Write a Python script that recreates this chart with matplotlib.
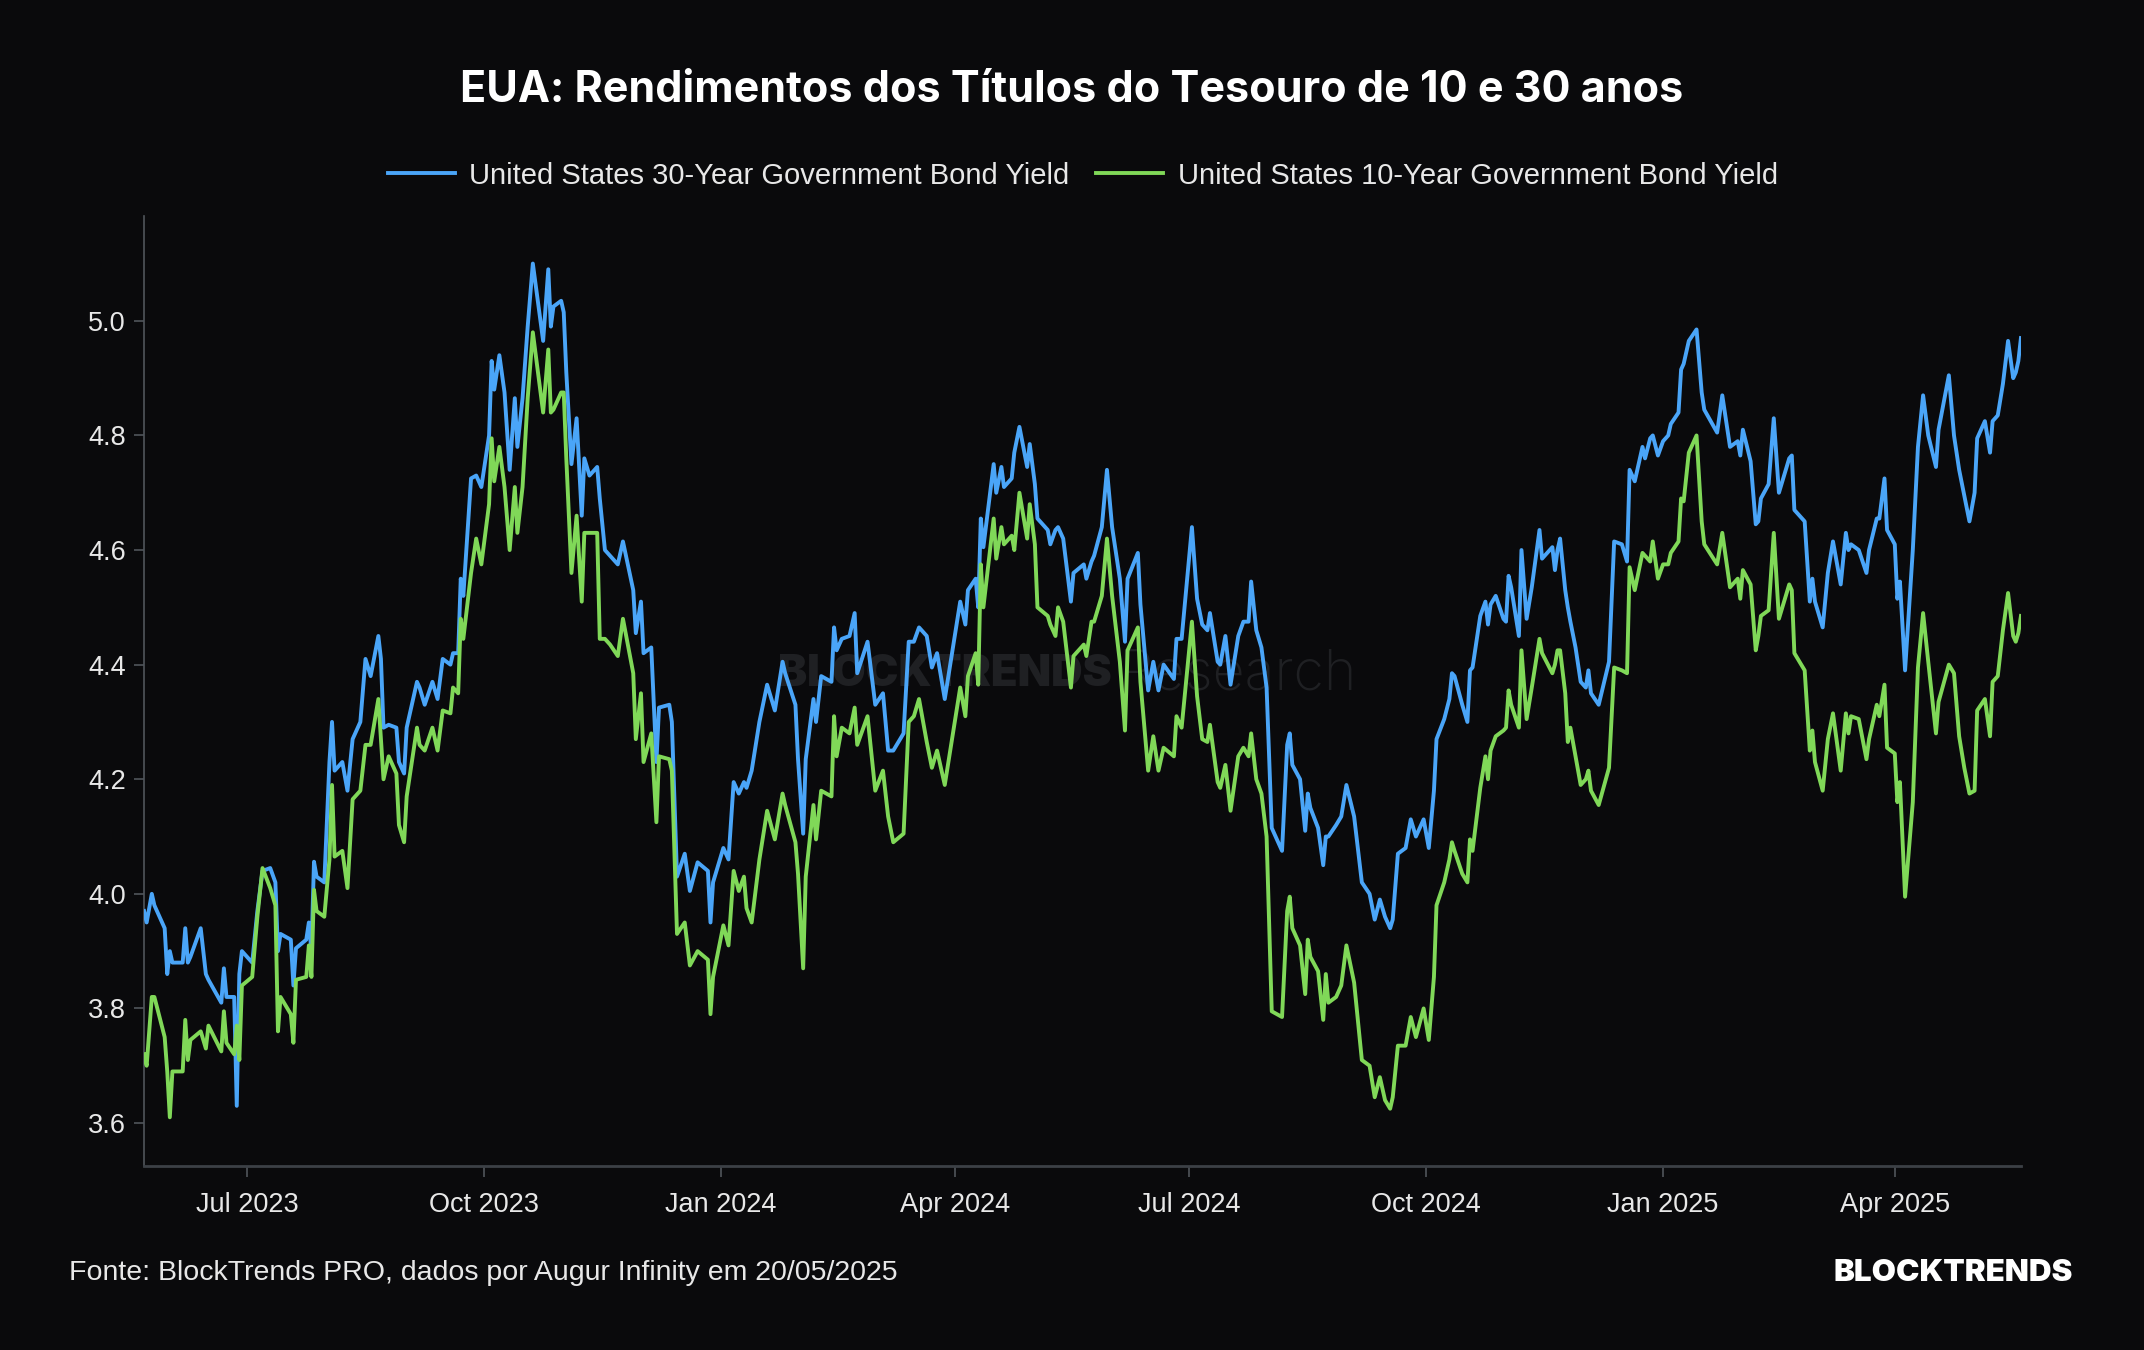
import matplotlib
matplotlib.use("Agg")
import matplotlib.pyplot as plt
import matplotlib.dates as mdates
import pandas as pd

plt.rcParams['font.family'] = ['Liberation Sans', 'DejaVu Sans']

# ---- data ----
dates = [
    # 2023
    "2023-05-22", "2023-05-23", "2023-05-25", "2023-05-26", "2023-05-30", "2023-05-31",
    "2023-06-01", "2023-06-02", "2023-06-06", "2023-06-07", "2023-06-08", "2023-06-09", "2023-06-13", "2023-06-15",
    "2023-06-16", "2023-06-21", "2023-06-22", "2023-06-23", "2023-06-26", "2023-06-27", "2023-06-28", "2023-06-29",
    "2023-07-03", "2023-07-05", "2023-07-07", "2023-07-10", "2023-07-12", "2023-07-13", "2023-07-14", "2023-07-18",
    "2023-07-19", "2023-07-20", "2023-07-24", "2023-07-25", "2023-07-26", "2023-07-27", "2023-07-28", "2023-07-31",
    "2023-08-02", "2023-08-03", "2023-08-04", "2023-08-07", "2023-08-09", "2023-08-11", "2023-08-14", "2023-08-16",
    "2023-08-18", "2023-08-21", "2023-08-22", "2023-08-23", "2023-08-25", "2023-08-28", "2023-08-29", "2023-08-31",
    "2023-09-01", "2023-09-05", "2023-09-06", "2023-09-08", "2023-09-11", "2023-09-13", "2023-09-15", "2023-09-18",
    "2023-09-19", "2023-09-21", "2023-09-22", "2023-09-23", "2023-09-26", "2023-09-28", "2023-09-30",
    "2023-10-03", "2023-10-04", "2023-10-05", "2023-10-07", "2023-10-09", "2023-10-11", "2023-10-13", "2023-10-14",
    "2023-10-16", "2023-10-18", "2023-10-20", "2023-10-24", "2023-10-26", "2023-10-27", "2023-10-28", "2023-10-31",
    "2023-11-01", "2023-11-02", "2023-11-04", "2023-11-06", "2023-11-08", "2023-11-09", "2023-11-11", "2023-11-14",
    "2023-11-15", "2023-11-17", "2023-11-19", "2023-11-22", "2023-11-24", "2023-11-28", "2023-11-29",
    "2023-12-01", "2023-12-02", "2023-12-05", "2023-12-07", "2023-12-08", "2023-12-12", "2023-12-13", "2023-12-15",
    "2023-12-18", "2023-12-20", "2023-12-23", "2023-12-27", "2023-12-28", "2023-12-29",
    # 2024
    "2024-01-02", "2024-01-04", "2024-01-06", "2024-01-08", "2024-01-10", "2024-01-11", "2024-01-13", "2024-01-16",
    "2024-01-19", "2024-01-22", "2024-01-25", "2024-01-26", "2024-01-30", "2024-01-31",
    "2024-02-02", "2024-02-03", "2024-02-06", "2024-02-07", "2024-02-09", "2024-02-13", "2024-02-14", "2024-02-15",
    "2024-02-17", "2024-02-20", "2024-02-22", "2024-02-23", "2024-02-27",
    "2024-03-01", "2024-03-04", "2024-03-06", "2024-03-08", "2024-03-12", "2024-03-14", "2024-03-16", "2024-03-18",
    "2024-03-21", "2024-03-23", "2024-03-25", "2024-03-28",
    "2024-04-03", "2024-04-05", "2024-04-06", "2024-04-09", "2024-04-10", "2024-04-11", "2024-04-12", "2024-04-16",
    "2024-04-17", "2024-04-19", "2024-04-20", "2024-04-23", "2024-04-24", "2024-04-26", "2024-04-29", "2024-04-30",
    "2024-05-02", "2024-05-03", "2024-05-07", "2024-05-08", "2024-05-10", "2024-05-11", "2024-05-13", "2024-05-16",
    "2024-05-17", "2024-05-21", "2024-05-22", "2024-05-24", "2024-05-25", "2024-05-28", "2024-05-30",
    "2024-06-01", "2024-06-04", "2024-06-06", "2024-06-07", "2024-06-11", "2024-06-12", "2024-06-15", "2024-06-17",
    "2024-06-19", "2024-06-21", "2024-06-25", "2024-06-26", "2024-06-28",
    "2024-07-02", "2024-07-04", "2024-07-06", "2024-07-08", "2024-07-09", "2024-07-12", "2024-07-13", "2024-07-15",
    "2024-07-17", "2024-07-20", "2024-07-22", "2024-07-24", "2024-07-25", "2024-07-27", "2024-07-29", "2024-07-31",
    "2024-08-02", "2024-08-06", "2024-08-08", "2024-08-09", "2024-08-10", "2024-08-13", "2024-08-15", "2024-08-16",
    "2024-08-17", "2024-08-20", "2024-08-22", "2024-08-23", "2024-08-24", "2024-08-27", "2024-08-29", "2024-08-31",
    "2024-09-03", "2024-09-06", "2024-09-09", "2024-09-11", "2024-09-13", "2024-09-15", "2024-09-17", "2024-09-18",
    "2024-09-20", "2024-09-23", "2024-09-25", "2024-09-27", "2024-09-30",
    "2024-10-02", "2024-10-04", "2024-10-05", "2024-10-08", "2024-10-10", "2024-10-11", "2024-10-12", "2024-10-15",
    "2024-10-17", "2024-10-18", "2024-10-19", "2024-10-22", "2024-10-24", "2024-10-25", "2024-10-26", "2024-10-28",
    "2024-10-31",
    "2024-11-01", "2024-11-02", "2024-11-03", "2024-11-06", "2024-11-07", "2024-11-09", "2024-11-11", "2024-11-14",
    "2024-11-15", "2024-11-19", "2024-11-20", "2024-11-21", "2024-11-22", "2024-11-24", "2024-11-25", "2024-11-26",
    "2024-11-28", "2024-11-30",
    "2024-12-02", "2024-12-03", "2024-12-04", "2024-12-07", "2024-12-11", "2024-12-13", "2024-12-16", "2024-12-18",
    "2024-12-19", "2024-12-21", "2024-12-24", "2024-12-25", "2024-12-27", "2024-12-28", "2024-12-30",
    # 2025
    "2025-01-01", "2025-01-03", "2025-01-04", "2025-01-07", "2025-01-08", "2025-01-09", "2025-01-11", "2025-01-14",
    "2025-01-16", "2025-01-17", "2025-01-22", "2025-01-24", "2025-01-27", "2025-01-30", "2025-01-31",
    "2025-02-01", "2025-02-04", "2025-02-06", "2025-02-07", "2025-02-08", "2025-02-11", "2025-02-13", "2025-02-15",
    "2025-02-19", "2025-02-20", "2025-02-21", "2025-02-25", "2025-02-27", "2025-02-28",
    "2025-03-01", "2025-03-04", "2025-03-06", "2025-03-08", "2025-03-11", "2025-03-13", "2025-03-14", "2025-03-15",
    "2025-03-18", "2025-03-21", "2025-03-22", "2025-03-25", "2025-03-26", "2025-03-28", "2025-03-29",
    "2025-04-01", "2025-04-02", "2025-04-03", "2025-04-05", "2025-04-08", "2025-04-10", "2025-04-12", "2025-04-14",
    "2025-04-17", "2025-04-18", "2025-04-22", "2025-04-24", "2025-04-26", "2025-04-28", "2025-04-30",
    "2025-05-02", "2025-05-03", "2025-05-06", "2025-05-08", "2025-05-09", "2025-05-11", "2025-05-13", "2025-05-15",
    "2025-05-17", "2025-05-18", "2025-05-19", "2025-05-20",
]

yield_30y = [
    # 2023
    3.97, 3.95, 4.00, 3.98, 3.94, 3.86,
    3.90, 3.88, 3.88, 3.94, 3.88, 3.89, 3.94, 3.86,
    3.85, 3.81, 3.87, 3.82, 3.82, 3.63, 3.86, 3.90,
    3.88, 3.97, 4.04, 4.045, 4.02, 3.90, 3.93, 3.92,
    3.84, 3.905, 3.92, 3.95, 3.90, 4.056, 4.03, 4.02,
    4.23, 4.30, 4.215, 4.23, 4.18, 4.27, 4.30, 4.41,
    4.38, 4.45, 4.41, 4.29, 4.295, 4.29, 4.23, 4.21,
    4.29, 4.37, 4.36, 4.33, 4.37, 4.34, 4.41, 4.40,
    4.42, 4.42, 4.55, 4.52, 4.725, 4.73, 4.71,
    4.80, 4.93, 4.88, 4.94, 4.875, 4.74, 4.865, 4.78,
    4.865, 4.99, 5.10, 4.965, 5.09, 4.99, 5.025, 5.035,
    5.015, 4.91, 4.75, 4.83, 4.66, 4.76, 4.73, 4.745,
    4.69, 4.60, 4.59, 4.575, 4.615, 4.53, 4.455,
    4.51, 4.42, 4.43, 4.23, 4.325, 4.33, 4.30, 4.03,
    4.07, 4.005, 4.055, 4.04, 3.95, 4.02,
    # 2024
    4.08, 4.06, 4.195, 4.175, 4.195, 4.185, 4.215, 4.30,
    4.365, 4.32, 4.405, 4.385, 4.33, 4.235,
    4.105, 4.235, 4.34, 4.30, 4.38, 4.37, 4.465, 4.425,
    4.445, 4.45, 4.49, 4.385, 4.44,
    4.33, 4.35, 4.25, 4.25, 4.28, 4.44, 4.44, 4.465,
    4.45, 4.395, 4.42, 4.34,
    4.51, 4.47, 4.53, 4.55, 4.50, 4.655, 4.605, 4.75,
    4.70, 4.745, 4.71, 4.725, 4.77, 4.815, 4.745, 4.785,
    4.715, 4.655, 4.635, 4.61, 4.635, 4.64, 4.62, 4.51,
    4.56, 4.575, 4.55, 4.58, 4.59, 4.64, 4.74,
    4.64, 4.55, 4.44, 4.55, 4.595, 4.505, 4.355, 4.405,
    4.355, 4.40, 4.375, 4.445, 4.445,
    4.64, 4.515, 4.47, 4.46, 4.49, 4.405, 4.40, 4.45,
    4.365, 4.45, 4.475, 4.475, 4.545, 4.46, 4.43, 4.36,
    4.115, 4.075, 4.26, 4.28, 4.225, 4.20, 4.11, 4.175,
    4.15, 4.115, 4.05, 4.10, 4.10, 4.12, 4.135, 4.19,
    4.135, 4.02, 4.00, 3.955, 3.99, 3.96, 3.94, 3.955,
    4.07, 4.08, 4.13, 4.10, 4.13,
    4.08, 4.18, 4.27, 4.305, 4.34, 4.385, 4.38, 4.33,
    4.30, 4.39, 4.395, 4.485, 4.51, 4.47, 4.505, 4.52,
    4.48,
    4.475, 4.555, 4.535, 4.45, 4.60, 4.48, 4.535, 4.635,
    4.585, 4.605, 4.565, 4.60, 4.62, 4.53, 4.50, 4.475,
    4.43, 4.37,
    4.36, 4.39, 4.35, 4.33, 4.405, 4.615, 4.61, 4.58,
    4.74, 4.72, 4.78, 4.76, 4.795, 4.80, 4.765,
    # 2025
    4.79, 4.80, 4.82, 4.84, 4.915, 4.925, 4.965, 4.985,
    4.875, 4.845, 4.805, 4.87, 4.78, 4.79, 4.765,
    4.81, 4.755, 4.645, 4.65, 4.69, 4.715, 4.83, 4.70,
    4.76, 4.765, 4.67, 4.65, 4.51, 4.55,
    4.51, 4.465, 4.56, 4.615, 4.54, 4.63, 4.60, 4.61,
    4.60, 4.56, 4.60, 4.655, 4.655, 4.725, 4.635,
    4.61, 4.515, 4.545, 4.39, 4.60, 4.78, 4.87, 4.80,
    4.745, 4.81, 4.905, 4.80, 4.74, 4.695, 4.65,
    4.70, 4.795, 4.825, 4.77, 4.825, 4.835, 4.89, 4.965,
    4.90, 4.91, 4.93, 4.97,
]

yield_10y = [
    # 2023
    3.72, 3.70, 3.82, 3.82, 3.75, 3.69,
    3.61, 3.69, 3.69, 3.78, 3.71, 3.745, 3.76, 3.73,
    3.77, 3.725, 3.795, 3.74, 3.72, 3.77, 3.71, 3.84,
    3.855, 3.96, 4.045, 4.01, 3.98, 3.76, 3.82, 3.79,
    3.74, 3.85, 3.855, 3.91, 3.855, 4.007, 3.97, 3.96,
    4.06, 4.19, 4.065, 4.075, 4.01, 4.165, 4.18, 4.26,
    4.26, 4.34, 4.27, 4.20, 4.24, 4.21, 4.12, 4.09,
    4.17, 4.29, 4.26, 4.25, 4.29, 4.25, 4.32, 4.315,
    4.36, 4.35, 4.48, 4.445, 4.56, 4.62, 4.575,
    4.68, 4.795, 4.72, 4.78, 4.71, 4.60, 4.71, 4.63,
    4.71, 4.865, 4.98, 4.84, 4.95, 4.84, 4.845, 4.875,
    4.875, 4.76, 4.56, 4.66, 4.51, 4.63, 4.63, 4.63,
    4.445, 4.445, 4.435, 4.415, 4.48, 4.385, 4.27,
    4.35, 4.23, 4.28, 4.125, 4.24, 4.235, 4.215, 3.93,
    3.95, 3.875, 3.90, 3.885, 3.79, 3.855,
    # 2024
    3.945, 3.91, 4.04, 4.005, 4.03, 3.975, 3.95, 4.06,
    4.145, 4.095, 4.175, 4.155, 4.09, 4.035,
    3.87, 4.03, 4.155, 4.095, 4.18, 4.17, 4.31, 4.24,
    4.29, 4.28, 4.325, 4.26, 4.31,
    4.18, 4.215, 4.135, 4.09, 4.105, 4.30, 4.31, 4.34,
    4.265, 4.22, 4.25, 4.19,
    4.36, 4.31, 4.38, 4.42, 4.365, 4.575, 4.50, 4.655,
    4.585, 4.64, 4.61, 4.625, 4.60, 4.70, 4.62, 4.68,
    4.61, 4.50, 4.485, 4.47, 4.45, 4.50, 4.475, 4.36,
    4.415, 4.435, 4.415, 4.475, 4.475, 4.52, 4.62,
    4.52, 4.405, 4.285, 4.425, 4.465, 4.37, 4.215, 4.275,
    4.215, 4.255, 4.24, 4.31, 4.29,
    4.475, 4.345, 4.27, 4.265, 4.295, 4.195, 4.185, 4.225,
    4.145, 4.24, 4.255, 4.24, 4.28, 4.20, 4.175, 4.10,
    3.795, 3.785, 3.97, 3.995, 3.94, 3.91, 3.825, 3.92,
    3.89, 3.865, 3.78, 3.86, 3.81, 3.82, 3.84, 3.91,
    3.845, 3.71, 3.70, 3.645, 3.68, 3.64, 3.625, 3.645,
    3.735, 3.735, 3.785, 3.75, 3.80,
    3.745, 3.855, 3.98, 4.02, 4.06, 4.09, 4.075, 4.035,
    4.02, 4.095, 4.075, 4.185, 4.24, 4.20, 4.25, 4.275,
    4.285,
    4.29, 4.355, 4.33, 4.29, 4.425, 4.305, 4.36, 4.445,
    4.42, 4.385, 4.40, 4.425, 4.425, 4.35, 4.265, 4.29,
    4.24, 4.19,
    4.20, 4.215, 4.18, 4.155, 4.22, 4.395, 4.39, 4.385,
    4.57, 4.53, 4.595, 4.59, 4.58, 4.615, 4.55,
    # 2025
    4.575, 4.575, 4.595, 4.615, 4.69, 4.685, 4.77, 4.80,
    4.65, 4.61, 4.575, 4.63, 4.535, 4.55, 4.515,
    4.565, 4.54, 4.425, 4.45, 4.485, 4.495, 4.63, 4.48,
    4.54, 4.53, 4.42, 4.39, 4.25, 4.285,
    4.23, 4.18, 4.27, 4.315, 4.215, 4.315, 4.28, 4.31,
    4.305, 4.235, 4.27, 4.33, 4.31, 4.365, 4.255,
    4.245, 4.16, 4.195, 3.995, 4.16, 4.395, 4.49, 4.405,
    4.28, 4.335, 4.40, 4.385, 4.275, 4.22, 4.175,
    4.18, 4.32, 4.34, 4.275, 4.37, 4.38, 4.46, 4.525,
    4.45, 4.44, 4.455, 4.485,
]

y_ticks = [3.6, 3.8, 4.0, 4.2, 4.4, 4.6, 4.8, 5.0]
label_30y = "United States 30-Year Government Bond Yield"
label_10y = "United States 10-Year Government Bond Yield"

assert len(dates) == len(yield_30y) == len(yield_10y)
x = pd.to_datetime(dates)

# ---- style ----
BG = "#0a0a0c"
BLUE = "#4aa5f8"
GREEN = "#80d858"
AXIS = "#50555b"
TXT = "#e8e8e8"

fig = plt.figure(figsize=(21.44, 13.5), dpi=100, facecolor=BG)
ax = fig.add_axes([0.0672, 0.1363, 0.8754, 0.7037], facecolor=BG)

# watermark
ax.text(0.338, 0.517, "BLOCKTRENDS", transform=ax.transAxes, fontsize=31.5,
        family=["Inter", "DejaVu Sans"], fontweight="black", color="#1f2023",
        va="center", ha="left", zorder=0)
ax.text(0.519, 0.517, "Research", transform=ax.transAxes, fontsize=40,
        family=["Inter", "DejaVu Sans"], fontweight="light", color="#1f2023",
        va="center", ha="left", zorder=0)

ax.plot(x, yield_30y, color=BLUE, lw=2.8, label=label_30y, zorder=3)
ax.plot(x, yield_10y, color=GREEN, lw=2.8, label=label_10y, zorder=4)

ax.set_xlim(pd.Timestamp("2023-05-22"), pd.Timestamp("2025-05-20"))
ax.set_ylim(3.525, 5.183)
ax.set_yticks(y_ticks)
ax.set_yticklabels([f"{v:.1f}" for v in y_ticks])
ax.xaxis.set_major_locator(mdates.MonthLocator(bymonth=[1, 4, 7, 10]))
ax.xaxis.set_major_formatter(mdates.DateFormatter("%b %Y"))

for s in ["top", "right"]:
    ax.spines[s].set_visible(False)
ax.spines["left"].set_color(AXIS)
ax.spines["left"].set_linewidth(1.2)
ax.spines["bottom"].set_color("#3c4046")
ax.spines["bottom"].set_linewidth(2.0)

ax.tick_params(axis="y", length=7, width=1.2, color=AXIS, pad=6,
               labelsize=19.5, labelcolor=TXT)
ax.tick_params(axis="x", length=8, width=1.2, color=AXIS, pad=11,
               labelsize=19.5, labelcolor=TXT)

fig.text(0.5, 0.933, "EUA: Rendimentos dos Títulos do Tesouro de 10 e 30 anos",
         ha="center", va="center", fontsize=31, fontweight="bold", color="white",
         family=["Inter", "DejaVu Sans"])

fig.legend(loc="center", bbox_to_anchor=(0.505, 0.870), ncol=2, frameon=False,
           fontsize=21, handlelength=2.3, handletextpad=0.5,
           columnspacing=0.9, labelcolor=TXT)

fig.text(0.032, 0.057, "Fonte: BlockTrends PRO, dados por Augur Infinity em 20/05/2025",
         ha="left", va="center", fontsize=20.5, color=TXT)
fig.text(0.967, 0.057, "BLOCKTRENDS", ha="right", va="center",
         fontsize=22.5, fontweight="black", color="white",
         family=["Inter", "DejaVu Sans"])

fig.savefig("out.png", dpi=100, facecolor=BG)
